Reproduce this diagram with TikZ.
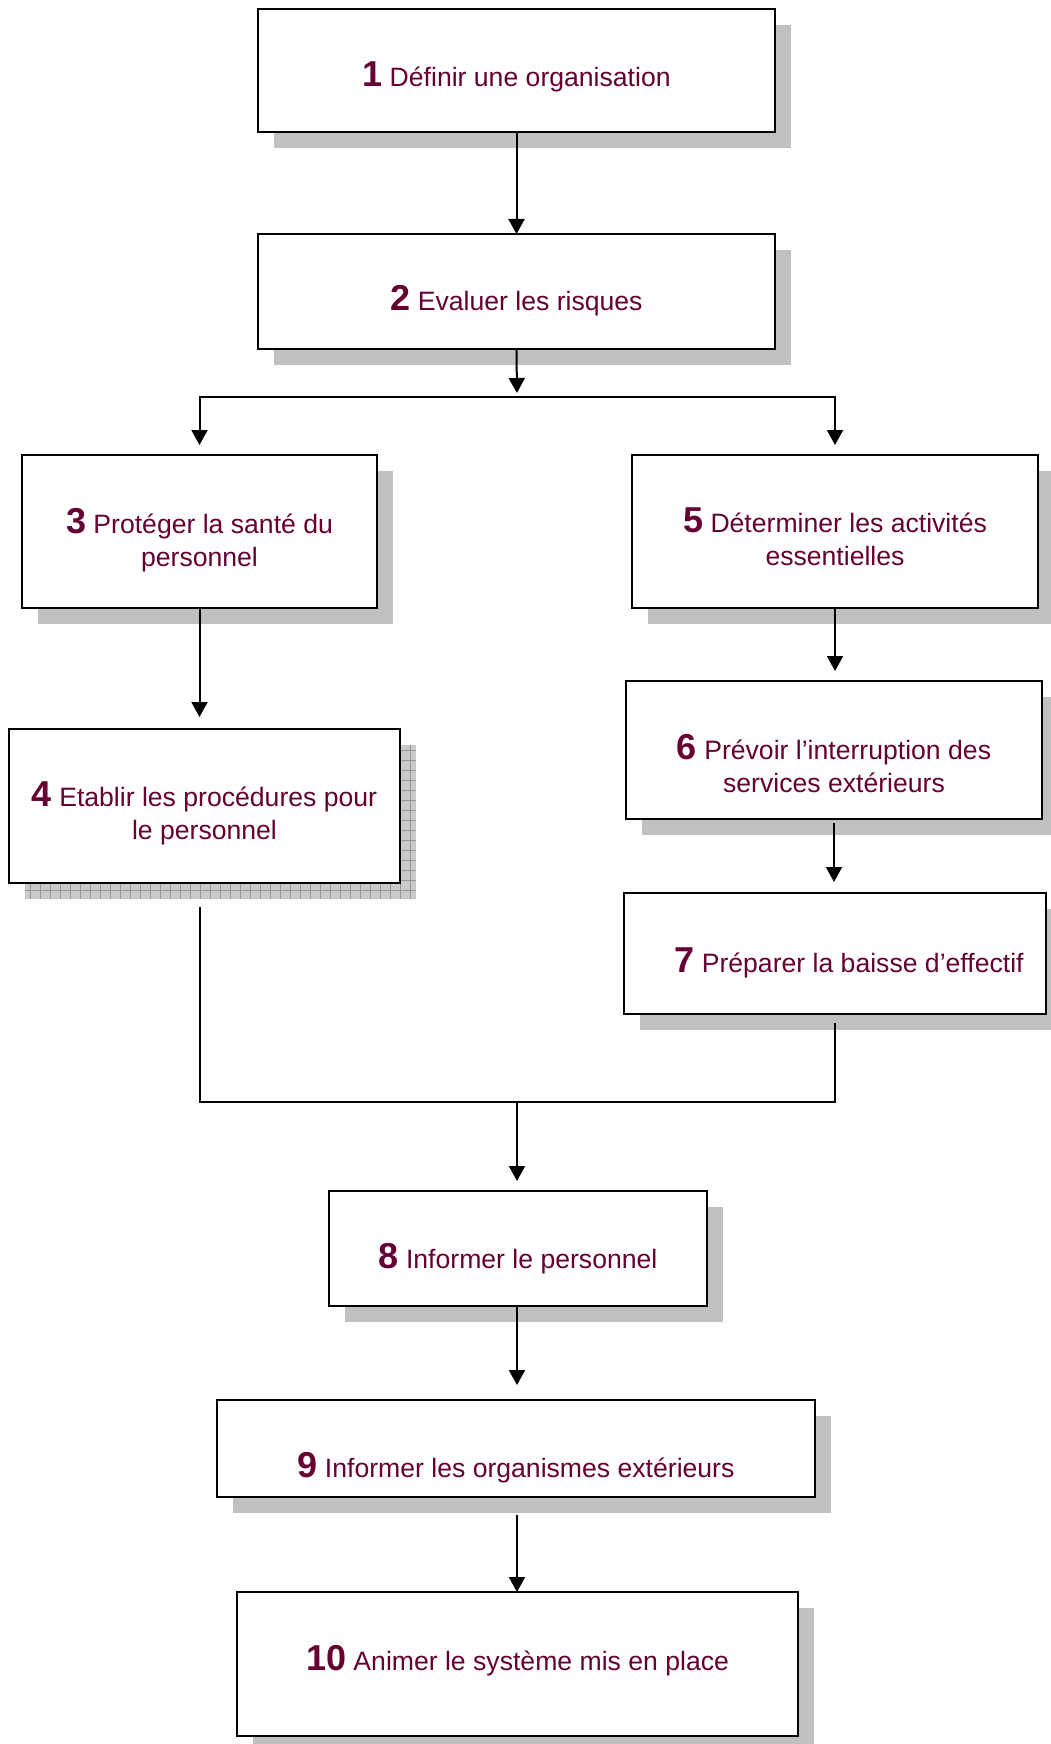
\documentclass[tikz,border=0pt]{standalone}
\usepackage{fontspec}
\setmainfont{Liberation Sans}
\usetikzlibrary{arrows.meta,positioning,shadows,backgrounds}
\definecolor{stepred}{RGB}{102,0,51}
\definecolor{shadowgray}{RGB}{192,192,192}
\definecolor{hatchgray}{RGB}{202,202,202}
\definecolor{hatchline}{RGB}{150,150,150}
\newcommand{\stepnum}[1]{{\fontsize{18}{16.5}\selectfont\bfseries #1}}

\begin{document}
\begin{tikzpicture}[
  x=0.5pt, y=-0.5pt,
  >={Triangle[width=8pt,length=7.5pt]},
  line width=1pt,
  box/.style={rectangle, draw=black, line width=1.3pt, fill=white, inner sep=0pt, outer sep=0pt},
  shadowed/.style={box, drop shadow={shadow xshift=7.8pt, shadow yshift=-7.8pt, fill=shadowgray, opacity=1}},
  lbl/.style={align=center, text=stepred, font=\fontsize{13.3}{16.5}\selectfont, inner sep=0pt},
]
\useasboundingbox (0,0) rectangle (1050,1744);

% boxes
\node[shadowed, minimum width=258.5pt, minimum height=61.5pt] (b1) at (516.5,70.5) {};
\node[shadowed, minimum width=258.5pt, minimum height=57.5pt, below=51pt of b1] (b2) {};
\node[shadowed, minimum width=177.5pt, minimum height=76.5pt] (b3) at (199.5,531.5) {};
\node[box, minimum width=195.5pt, minimum height=77pt, below=60.5pt of b3, xshift=2.5pt] (b4) {};
\node[shadowed, minimum width=203pt, minimum height=76.5pt] (b5) at (835,531.5) {};
\node[shadowed, minimum width=208pt, minimum height=69pt, below=36.5pt of b5, xshift=-0.5pt] (b6) {};
\node[shadowed, minimum width=211pt, minimum height=60.5pt, below=37pt of b6, xshift=0.5pt] (b7) {};
\node[shadowed, minimum width=189pt, minimum height=57.5pt] (b8) at (518,1248.5) {};
\node[shadowed, minimum width=299pt, minimum height=48.5pt, below=47pt of b8, xshift=-1pt] (b9) {};
\node[shadowed, minimum width=280.5pt, minimum height=72pt, below=47.5pt of b9, xshift=0.75pt] (b10) {};

% hatched shadow of box 4
\begin{scope}[on background layer]
  \fill[hatchgray] ([xshift=7.8pt,yshift=-7.8pt]b4.south west) rectangle ([xshift=7.8pt,yshift=-7.8pt]b4.north east);
  \draw[hatchline, line width=0.4pt, step=5pt] ([xshift=7.8pt,yshift=-7.8pt]b4.south west) grid ([xshift=7.8pt,yshift=-7.8pt]b4.north east);
\end{scope}

% texts
\node[lbl] (t1) at ([yshift=-3.2pt]b1) {\stepnum{1} Définir une organisation};
\node[lbl] (t2) at ([yshift=-4.7pt]b2) {\stepnum{2} Evaluer les risques};
\node[lbl] (t3) at ([yshift=-4.5pt]b3) {\stepnum{3} Protéger la santé du\\personnel};
\node[lbl] (t4) at ([yshift=-3.6pt]b4) {\stepnum{4} Etablir les procédures pour\\le personnel};
\node[lbl] (t5) at ([yshift=-2.5pt]b5) {\stepnum{5} Déterminer les activités\\essentielles};
\node[lbl] (t6) at ([yshift=-6.6pt]b6) {\stepnum{6} Prévoir l’interruption des\\services extérieurs};
\node[lbl] (t7) at ([xshift=7pt,yshift=-4.5pt]b7) {\stepnum{7} Préparer la baisse d’effectif};
\node[lbl] (t8) at ([yshift=-5.2pt]b8) {\stepnum{8} Informer le personnel};
\node[lbl] (t9) at ([yshift=-9.5pt]b9) {\stepnum{9} Informer les organismes extérieurs};
\node[lbl] (t10) at ([yshift=1.5pt]b10) {\stepnum{10} Animer le système mis en place};

% connectors
\coordinate (split) at (517,397);
\coordinate (merge) at (517,1102);
\draw[->] (b1.south) -- (b2.north);
\draw[->, shorten >=2pt] (b2.south) -- (split);
\draw[->, shorten >=5pt] (split) -| (b3.north);
\draw[->, shorten >=5pt] (split) -| (b5.north);
\draw[->, shorten >=6pt] (b3.south) -- (b3.south |- b4.north);
\draw[->, shorten >=5pt] (b5.south) -- (b5.south |- b6.north);
\draw[->, shorten <=2pt, shorten >=5.5pt] (b6.south) -- (b6.south |- b7.north);
\draw[shorten <=12pt] (b3.south |- b4.south) |- (merge);
\draw[shorten <=4.5pt] (b7.south) |- (merge);
\draw[->, shorten >=5pt] (merge) -- (merge |- b8.north);
\draw[->, shorten >=7.5pt] (merge |- b8.south) -- (merge |- b9.north);
\draw[->, shorten <=9pt] (merge |- b9.south) -- (merge |- b10.north);
\end{tikzpicture}
\end{document}
